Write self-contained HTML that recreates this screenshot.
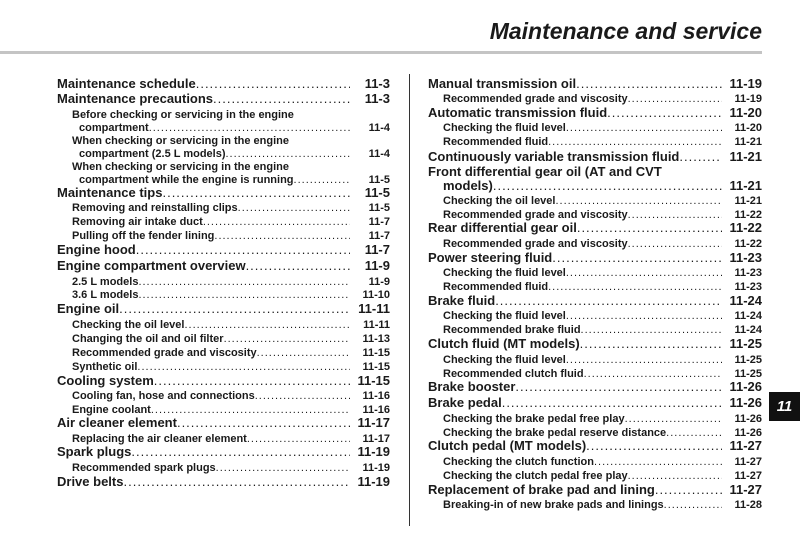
<!DOCTYPE html>
<html><head><meta charset="utf-8"><style>
body{margin:0;background:#fff;}
#p{position:relative;width:800px;height:533px;overflow:hidden;background:#fff;font-family:"Liberation Sans",Arial,sans-serif;font-weight:bold;color:#1a1a1a;}
.t{position:absolute;right:38px;top:18px;font-size:23px;font-style:italic;font-weight:bold;}
.bar{position:absolute;left:0;top:51px;width:762px;height:3px;background:#c4c4c4;}
.vl{position:absolute;left:409px;top:74px;width:1px;height:452px;background:#333;}
.tab{position:absolute;left:769px;top:392px;width:31px;height:29px;background:#111;color:#fff;font-size:15px;font-style:italic;text-align:center;line-height:29px;}
.r{position:absolute;display:flex;height:16px;line-height:16px;white-space:nowrap;font-size:13px;}
.s{font-size:11px;}
.d{flex:1;overflow:hidden;white-space:nowrap;letter-spacing:1px;font-weight:normal;}
.d::after{content:"................................................................................................................................................................";}
.n{width:40px;text-align:right;flex:none;}
.L{left:57px;width:333px;}
.LS{left:72px;width:318px;}
.LC{left:79px;width:311px;}
.R{left:428px;width:334px;}
.RS{left:443px;width:319px;}
.RC{left:443px;width:319px;}
</style></head><body><div id="p">
<div class="t">Maintenance and service</div>
<div class="bar"></div>
<div class="vl"></div>
<div class="tab">11</div>

<div class="r L" style="top:76px">Maintenance schedule <span class="d"></span><span class="n">11-3</span></div>
<div class="r L" style="top:91px">Maintenance precautions<span class="d"></span><span class="n">11-3</span></div>
<div class="r LS s" style="top:107px">Before checking or servicing in the engine</div>
<div class="r LC s" style="top:120px">compartment<span class="d"></span><span class="n">11-4</span></div>
<div class="r LS s" style="top:133px">When checking or servicing in the engine</div>
<div class="r LC s" style="top:146px">compartment (2.5 L models) <span class="d"></span><span class="n">11-4</span></div>
<div class="r LS s" style="top:159px">When checking or servicing in the engine</div>
<div class="r LC s" style="top:172px">compartment while the engine is running<span class="d"></span><span class="n">11-5</span></div>
<div class="r L" style="top:185px">Maintenance tips <span class="d"></span><span class="n">11-5</span></div>
<div class="r LS s" style="top:200px">Removing and reinstalling clips<span class="d"></span><span class="n">11-5</span></div>
<div class="r LS s" style="top:214px">Removing air intake duct<span class="d"></span><span class="n">11-7</span></div>
<div class="r LS s" style="top:228px">Pulling off the fender lining <span class="d"></span><span class="n">11-7</span></div>
<div class="r L" style="top:242px">Engine hood <span class="d"></span><span class="n">11-7</span></div>
<div class="r L" style="top:258px">Engine compartment overview<span class="d"></span><span class="n">11-9</span></div>
<div class="r LS s" style="top:274px">2.5 L models <span class="d"></span><span class="n">11-9</span></div>
<div class="r LS s" style="top:287px">3.6 L models <span class="d"></span><span class="n">11-10</span></div>
<div class="r L" style="top:301px">Engine oil<span class="d"></span><span class="n">11-11</span></div>
<div class="r LS s" style="top:317px">Checking the oil level <span class="d"></span><span class="n">11-11</span></div>
<div class="r LS s" style="top:331px">Changing the oil and oil filter<span class="d"></span><span class="n">11-13</span></div>
<div class="r LS s" style="top:345px">Recommended grade and viscosity <span class="d"></span><span class="n">11-15</span></div>
<div class="r LS s" style="top:359px">Synthetic oil<span class="d"></span><span class="n">11-15</span></div>
<div class="r L" style="top:373px">Cooling system <span class="d"></span><span class="n">11-15</span></div>
<div class="r LS s" style="top:388px">Cooling fan, hose and connections<span class="d"></span><span class="n">11-16</span></div>
<div class="r LS s" style="top:402px">Engine coolant<span class="d"></span><span class="n">11-16</span></div>
<div class="r L" style="top:415px">Air cleaner element<span class="d"></span><span class="n">11-17</span></div>
<div class="r LS s" style="top:431px">Replacing the air cleaner element <span class="d"></span><span class="n">11-17</span></div>
<div class="r L" style="top:444px">Spark plugs <span class="d"></span><span class="n">11-19</span></div>
<div class="r LS s" style="top:460px">Recommended spark plugs <span class="d"></span><span class="n">11-19</span></div>
<div class="r L" style="top:474px">Drive belts <span class="d"></span><span class="n">11-19</span></div>

<div class="r R" style="top:76px">Manual transmission oil<span class="d"></span><span class="n">11-19</span></div>
<div class="r RS s" style="top:91px">Recommended grade and viscosity<span class="d"></span><span class="n">11-19</span></div>
<div class="r R" style="top:105px">Automatic transmission fluid<span class="d"></span><span class="n">11-20</span></div>
<div class="r RS s" style="top:120px">Checking the fluid level<span class="d"></span><span class="n">11-20</span></div>
<div class="r RS s" style="top:134px">Recommended fluid<span class="d"></span><span class="n">11-21</span></div>
<div class="r R" style="top:149px">Continuously variable transmission fluid <span class="d"></span><span class="n">11-21</span></div>
<div class="r R" style="top:164px">Front differential gear oil (AT and CVT</div>
<div class="r RC" style="top:178px;font-size:13px">models)<span class="d"></span><span class="n">11-21</span></div>
<div class="r RS s" style="top:193px">Checking the oil level <span class="d"></span><span class="n">11-21</span></div>
<div class="r RS s" style="top:207px">Recommended grade and viscosity<span class="d"></span><span class="n">11-22</span></div>
<div class="r R" style="top:220px">Rear differential gear oil<span class="d"></span><span class="n">11-22</span></div>
<div class="r RS s" style="top:236px">Recommended grade and viscosity<span class="d"></span><span class="n">11-22</span></div>
<div class="r R" style="top:250px">Power steering fluid <span class="d"></span><span class="n">11-23</span></div>
<div class="r RS s" style="top:265px">Checking the fluid level<span class="d"></span><span class="n">11-23</span></div>
<div class="r RS s" style="top:279px">Recommended fluid<span class="d"></span><span class="n">11-23</span></div>
<div class="r R" style="top:293px">Brake fluid<span class="d"></span><span class="n">11-24</span></div>
<div class="r RS s" style="top:308px">Checking the fluid level<span class="d"></span><span class="n">11-24</span></div>
<div class="r RS s" style="top:322px">Recommended brake fluid <span class="d"></span><span class="n">11-24</span></div>
<div class="r R" style="top:336px">Clutch fluid (MT models)<span class="d"></span><span class="n">11-25</span></div>
<div class="r RS s" style="top:352px">Checking the fluid level<span class="d"></span><span class="n">11-25</span></div>
<div class="r RS s" style="top:366px">Recommended clutch fluid<span class="d"></span><span class="n">11-25</span></div>
<div class="r R" style="top:379px">Brake booster <span class="d"></span><span class="n">11-26</span></div>
<div class="r R" style="top:395px">Brake pedal<span class="d"></span><span class="n">11-26</span></div>
<div class="r RS s" style="top:411px">Checking the brake pedal free play <span class="d"></span><span class="n">11-26</span></div>
<div class="r RS s" style="top:425px">Checking the brake pedal reserve distance<span class="d"></span><span class="n">11-26</span></div>
<div class="r R" style="top:438px">Clutch pedal (MT models) <span class="d"></span><span class="n">11-27</span></div>
<div class="r RS s" style="top:454px">Checking the clutch function<span class="d"></span><span class="n">11-27</span></div>
<div class="r RS s" style="top:468px">Checking the clutch pedal free play<span class="d"></span><span class="n">11-27</span></div>
<div class="r R" style="top:482px">Replacement of brake pad and lining <span class="d"></span><span class="n">11-27</span></div>
<div class="r RS s" style="top:497px">Breaking-in of new brake pads and linings <span class="d"></span><span class="n">11-28</span></div>
</div></body></html>
